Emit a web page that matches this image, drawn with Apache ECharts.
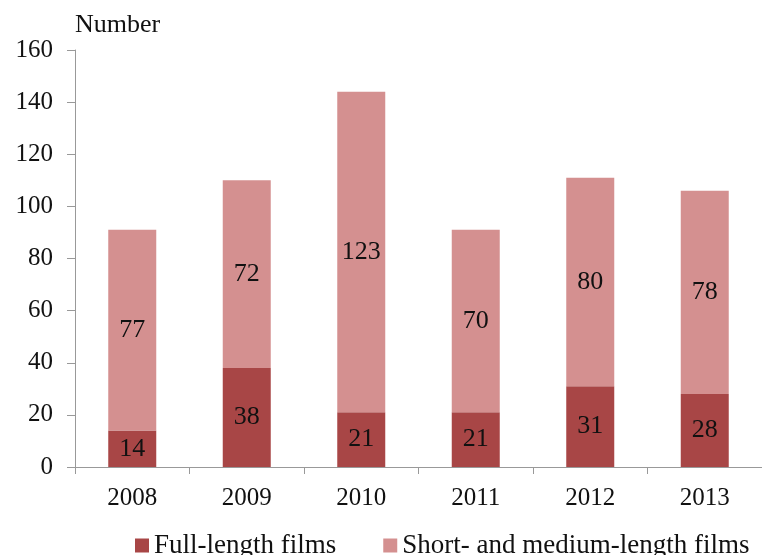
<!DOCTYPE html>
<html>
<head>
<meta charset="utf-8">
<script src="https://cdn.jsdelivr.net/npm/echarts@6/dist/echarts.min.js"></script>
<style>
  html, body { margin: 0; padding: 0; background: #fff; }
  #main { width: 762px; height: 555px; }
</style>
</head>
<body>
<div id="main"></div>
<script>
// data
var years = ['2008', '2009', '2010', '2011', '2012', '2013'];
var fullLength = [14, 38, 21, 21, 31, 28];
var shortMedium = [77, 72, 123, 70, 80, 78];
var yTicks = [0, 20, 40, 60, 80, 100, 120, 140, 160];

var serif = '"Liberation Serif", "DejaVu Serif", serif';

var myChart = echarts.init(document.getElementById('main'));

var labelStyle = {
  show: true,
  position: 'inside',
  color: '#111',
  fontFamily: serif,
  fontSize: 26
};

var option = {
  animation: false,
  backgroundColor: '#fff',
  textStyle: { fontFamily: serif },
  grid: { left: 75, top: 50, width: 700, height: 417, containLabel: false },
  legend: {
    top: 527,
    left: 130,
    itemWidth: 14,
    itemHeight: 14,
    itemGap: 47,
    icon: 'rect',
    textStyle: { fontFamily: serif, fontSize: 27, color: '#111' },
    data: ['Full-length films', 'Short- and medium-length films']
  },
  xAxis: {
    type: 'category',
    data: years,
    axisLine: { lineStyle: { color: '#999', width: 1 } },
    axisTick: { show: true, alignWithLabel: false, length: 7, lineStyle: { color: '#999' } },
    axisLabel: { color: '#111', fontFamily: serif, fontSize: 25, margin: 19 }
  },
  yAxis: {
    type: 'value',
    name: 'Number',
    nameLocation: 'end',
    nameGap: 12,
    nameTextStyle: { color: '#111', fontFamily: serif, fontSize: 26, align: 'left' },
    min: yTicks[0],
    max: yTicks[yTicks.length - 1],
    interval: 20,
    axisLine: { show: true, lineStyle: { color: '#999', width: 1 } },
    axisTick: { show: true, inside: false, length: 8, lineStyle: { color: '#999' } },
    splitLine: { show: false },
    axisLabel: { color: '#111', fontFamily: serif, fontSize: 25, margin: 22 }
  },
  series: [
    {
      name: 'Full-length films',
      type: 'bar',
      stack: 'films',
      barWidth: 48,
      itemStyle: { color: '#a84646' },
      label: labelStyle,
      data: fullLength
    },
    {
      name: 'Short- and medium-length films',
      type: 'bar',
      stack: 'films',
      barWidth: 48,
      itemStyle: { color: '#d49090' },
      label: labelStyle,
      data: shortMedium
    }
  ]
};

myChart.setOption(option);
</script>
</body>
</html>
